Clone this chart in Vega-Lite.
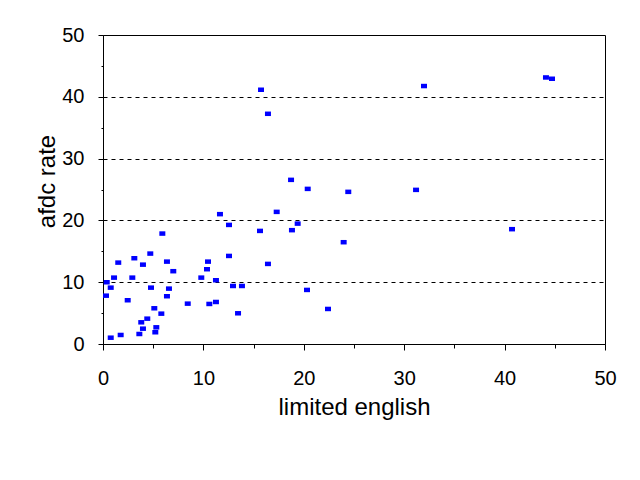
{
  "$schema": "https://vega.github.io/schema/vega-lite/v6.json",
  "autosize": {"type": "none"},
  "width": 502,
  "height": 309,
  "padding": {"left": 103, "top": 35, "right": 35, "bottom": 136},
  "background": "white",
  "config": {
    "view": {"stroke": "black", "strokeWidth": 1},
    "font": "Liberation Sans"
  },
  "data": {"values": [
    {"limited": 5.91, "afdc": 17.87},
    {"limited": 1.52, "afdc": 13.17},
    {"limited": 3.12, "afdc": 13.88},
    {"limited": 4.71, "afdc": 14.63},
    {"limited": 3.98, "afdc": 12.84},
    {"limited": 6.37, "afdc": 13.33},
    {"limited": 7.0, "afdc": 11.78},
    {"limited": 10.46, "afdc": 13.33},
    {"limited": 10.36, "afdc": 12.1},
    {"limited": 9.79, "afdc": 10.74},
    {"limited": 11.25, "afdc": 10.32},
    {"limited": 1.1, "afdc": 10.74},
    {"limited": 2.92, "afdc": 10.74},
    {"limited": 0.37, "afdc": 9.99},
    {"limited": 0.77, "afdc": 9.12},
    {"limited": 0.3, "afdc": 7.82},
    {"limited": 4.78, "afdc": 9.12},
    {"limited": 6.57, "afdc": 8.96},
    {"limited": 2.46, "afdc": 7.08},
    {"limited": 6.37, "afdc": 7.73},
    {"limited": 5.11, "afdc": 5.78},
    {"limited": 5.81, "afdc": 4.91},
    {"limited": 4.41, "afdc": 4.1},
    {"limited": 3.81, "afdc": 3.51},
    {"limited": 3.98, "afdc": 2.48},
    {"limited": 5.31, "afdc": 2.7},
    {"limited": 5.21, "afdc": 1.9},
    {"limited": 3.62, "afdc": 1.62},
    {"limited": 1.76, "afdc": 1.46},
    {"limited": 0.77, "afdc": 1.02},
    {"limited": 8.44, "afdc": 6.53},
    {"limited": 10.59, "afdc": 6.48},
    {"limited": 11.25, "afdc": 6.8},
    {"limited": 18.73, "afdc": 26.56},
    {"limited": 20.39, "afdc": 25.1},
    {"limited": 24.43, "afdc": 24.62},
    {"limited": 11.65, "afdc": 21.01},
    {"limited": 17.3, "afdc": 21.38},
    {"limited": 12.55, "afdc": 19.27},
    {"limited": 19.39, "afdc": 19.48},
    {"limited": 15.64, "afdc": 18.3},
    {"limited": 18.82, "afdc": 18.42},
    {"limited": 23.97, "afdc": 16.47},
    {"limited": 12.55, "afdc": 14.25},
    {"limited": 16.43, "afdc": 12.96},
    {"limited": 12.95, "afdc": 9.39},
    {"limited": 13.84, "afdc": 9.39},
    {"limited": 20.32, "afdc": 8.75},
    {"limited": 13.45, "afdc": 4.97},
    {"limited": 22.41, "afdc": 5.67},
    {"limited": 15.74, "afdc": 41.14},
    {"limited": 16.43, "afdc": 37.25},
    {"limited": 31.97, "afdc": 41.74},
    {"limited": 44.12, "afdc": 43.13},
    {"limited": 44.72, "afdc": 42.92},
    {"limited": 31.18, "afdc": 24.94},
    {"limited": 40.74, "afdc": 18.58}
  ]},
  "mark": {
    "type": "point",
    "shape": "M-1,-0.75L1,-0.75L1,0.75L-1,0.75Z",
    "size": 36,
    "filled": true,
    "color": "#0000FF",
    "opacity": 1,
    "strokeWidth": 0
  },
  "encoding": {
    "x": {
      "field": "limited",
      "type": "quantitative",
      "scale": {"domain": [0, 50], "nice": false, "zero": true},
      "axis": {
        "title": "limited english",
        "titleFont": "Liberation Sans",
        "titleFontSize": 24,
        "titleFontWeight": "normal",
        "titleColor": "black",
        "titleBaseline": "alphabetic",
        "titleY": 70,
        "values": [0, 5, 10, 15, 20, 25, 30, 35, 40, 45, 50],
        "labelExpr": "datum.value % 10 === 0 ? datum.label : ''",
        "labelFont": "Liberation Sans",
        "labelFontSize": 20,
        "labelColor": "black",
        "labelPadding": 18,
        "labelFlush": false,
        "labelOverlap": false,
        "grid": false,
        "domainColor": "black",
        "domainWidth": 1,
        "tickColor": "black",
        "tickWidth": 1,
        "tickSize": {"condition": {"test": "datum.value % 10 === 0", "value": 6}, "value": 4},
        "encode": {
          "ticks": {"update": {"y": [{"test": "datum.value % 10 === 0", "value": -4}, {"value": -1.5}]}}
        }
      }
    },
    "y": {
      "field": "afdc",
      "type": "quantitative",
      "scale": {"domain": [0, 50], "nice": false, "zero": true},
      "axis": {
        "title": "afdc rate",
        "titleFont": "Liberation Sans",
        "titleFontSize": 24,
        "titleFontWeight": "normal",
        "titleColor": "black",
        "titleBaseline": "alphabetic",
        "titleX": -49,
        "titleY": 146,
        "values": [0, 5, 10, 15, 20, 25, 30, 35, 40, 45, 50],
        "labelExpr": "datum.value % 10 === 0 ? datum.label : ''",
        "labelFont": "Liberation Sans",
        "labelFontSize": 20,
        "labelColor": "black",
        "labelPadding": 14,
        "labelFlush": false,
        "labelOverlap": false,
        "grid": true,
        "gridColor": "black",
        "gridWidth": 1,
        "gridDash": [4, 4],
        "gridOpacity": {"condition": {"test": "datum.value % 10 === 0 && datum.value > 0 && datum.value < 50", "value": 1}, "value": 0},
        "domainColor": "black",
        "domainWidth": 1,
        "tickColor": "black",
        "tickWidth": 1,
        "tickSize": {"condition": {"test": "datum.value % 10 === 0", "value": 5}, "value": 2},
        "encode": {
          "ticks": {"update": {"x": [{"test": "datum.value % 10 === 0", "value": 4}, {"value": 2}]}}
        }
      }
    }
  }
}
